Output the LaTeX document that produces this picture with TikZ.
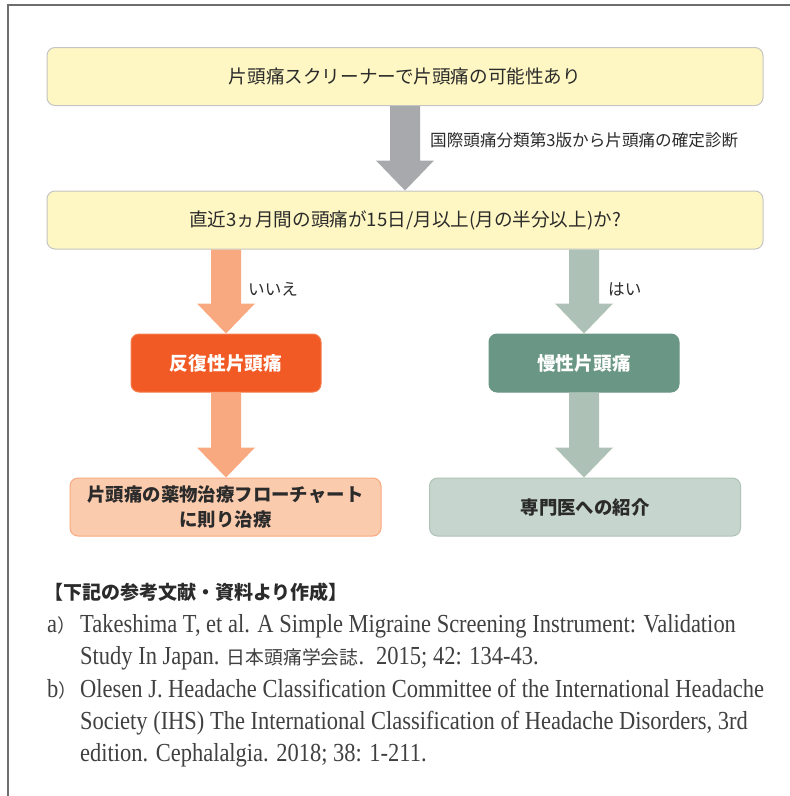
\documentclass[tikz,border=0pt]{standalone}
\usepackage{fontspec}
\setmainfont{Liberation Serif}
\newfontfamily\jp{Noto Sans CJK JP}
\newfontfamily\refser[FakeStretch=0.865]{Liberation Serif}
\usetikzlibrary{calc}
\definecolor{yfill}{HTML}{FEF7C3}
\definecolor{yline}{HTML}{C4C4C4}
\definecolor{grayarr}{HTML}{A7A9AC}
\definecolor{orarr}{HTML}{F8A97F}
\definecolor{orbox}{HTML}{F15A24}
\definecolor{orline}{HTML}{F47E4E}
\definecolor{grarr}{HTML}{ADC1B7}
\definecolor{grbox}{HTML}{6A9685}
\definecolor{lorfill}{HTML}{FBCBAE}
\definecolor{lgrfill}{HTML}{C6D5CD}
\definecolor{lgrline}{HTML}{AFC3B9}
\definecolor{txt}{HTML}{2B2B2B}
\definecolor{reftxt}{HTML}{404040}
\definecolor{framec}{HTML}{6E6E6E}
\newcommand\fatarrow[3]{%
  \fill[#3] let \p1=(#1), \p2=(#2) in
  (\x1-15pt,\y1) -- (\x1+15pt,\y1) -- (\x1+15pt,\y2+30pt) -- (\x1+29pt,\y2+30pt)
  -- (\x1,\y2) -- (\x1-29pt,\y2+30pt) -- (\x1-15pt,\y2+30pt) -- cycle;}
\tikzset{
  boxbase/.style={rounded corners=8pt, line width=1pt, inner sep=0pt, align=center},
  ybox/.style={boxbase, draw=yline, fill=yfill, text=txt, minimum width=716pt, minimum height=58pt,
    font={\jp\fontsize{18.6}{22}\selectfont}},
  darkbox/.style={boxbase, minimum width=190pt, minimum height=58pt, text=white,
    font={\jp\bfseries\fontsize{18.7}{22}\selectfont}},
  lightbox/.style={boxbase, minimum width=311pt, minimum height=58pt, text=txt,
    font={\jp\bfseries\fontsize{18.4}{25}\selectfont}},
  lbl/.style={anchor=west, inner sep=0pt, text=txt, font={\jp\fontsize{16.6}{20}\selectfont}},
  refs/.style={anchor=base west, inner sep=0pt, text=reftxt, font={\refser\fontsize{26}{30}\selectfont}},
}
\begin{document}
\begin{tikzpicture}[x=1pt,y=-1pt]
\useasboundingbox (0,0) rectangle (790,796);
\draw[framec, line width=1.5pt] (8,796) -- (8,5) -- (790,5);

\node[ybox] (b1) at (405,76.5) {片頭痛スクリーナーで片頭痛の可能性あり};
\node[ybox] (b2) at (405,220) {直近3ヵ月間の頭痛が15日/月以上(月の半分以上)か?};
\node[darkbox, fill=orbox, draw=orline] (b3) at (226,363) {反復性片頭痛};
\node[darkbox, fill=grbox, draw=grbox] (b4) at (584,363) {慢性片頭痛};
\node[lightbox, fill=lorfill, draw=orarr] (b5) at (225.5,507) {片頭痛の薬物治療フローチャート\\に則り治療};
\node[lightbox, fill=lgrfill, draw=lgrline] (b6) at (585,507) {専門医への紹介};

\fatarrow{b1.south}{b2.north}{grayarr}
\fatarrow{b2.south -| b3.north}{b3.north}{orarr}
\fatarrow{b2.south -| b4.north}{b4.north}{grarr}
\fatarrow{b3.south}{b5.north -| b3.south}{orarr}
\fatarrow{b4.south}{b6.north -| b4.south}{grarr}

\node[lbl] (l1) at (430,140) {国際頭痛分類第3版から片頭痛の確定診断};
\node[lbl] (l2) at (248,289) {いいえ};
\node[lbl] (l3) at (608,289) {はい};

\node[anchor=base west, inner sep=0pt, text=txt, font={\jp\bfseries\fontsize{19}{22}\selectfont}] (h) at (44,599) {【下記の参考文献・資料より作成】};
\node[refs] (ra) at (47,632) {a{\jp\fontsize{18.5}{20}\selectfont ）}};
\node[refs] (r1) at (80,632) {Takeshima T, et al. A Simple Migraine Screening Instrument: Validation};
\node[refs] (r2) at (80,664) {Study In Japan. {\jp\fontsize{18.8}{20}\selectfont 日本頭痛学会誌}.\hspace{12pt}2015; 42: 134-43.};
\node[refs] (rb) at (47,697) {b{\jp\fontsize{18.5}{20}\selectfont ）}};
\node[refs] (r3) at (80,697) {Olesen J. Headache Classification Committee of the International Headache};
\node[refs] (r4) at (80,729) {Society (IHS) The International Classification of Headache Disorders, 3rd};
\node[refs] (r5) at (80,761) {edition. Cephalalgia. 2018; 38: 1-211.};
\end{tikzpicture}
\end{document}
